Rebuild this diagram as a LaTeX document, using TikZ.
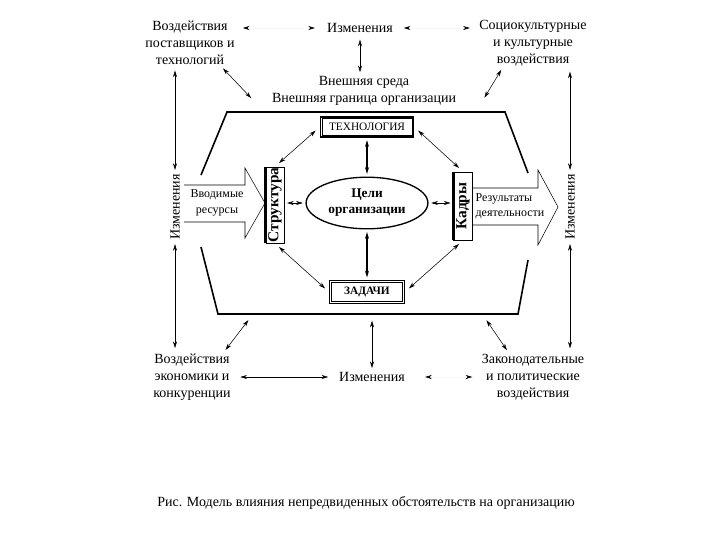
\documentclass[tikz,border=0pt]{standalone}
\usepackage{fontspec}
\setmainfont{Liberation Serif}
\usetikzlibrary{positioning, arrows.meta, shapes.geometric}

\begin{document}
\begin{tikzpicture}[x=0.75pt, y=-0.75pt, font=\fontsize{10.5}{12.75}\selectfont,
    >={Stealth[length=5pt,width=3pt]},
    txt/.style={align=center, inner sep=1pt},
    conn/.style={<->, shorten >=2pt, shorten <=2pt},
    faint/.style={draw=black!3, {Stealth[black,length=5pt,width=3pt]}-{Stealth[black,length=5pt,width=3pt]}},
    frame/.style={draw, line width=0.9pt, fill=white, inner sep=1pt},
    side/.style={draw, line width=0.6pt, fill=white, rotate=90, inner sep=0pt,
                 font=\fontsize{11.5}{12}\selectfont\bfseries},
    boundary/.style={line width=1.2pt},
    block/.style={line width=0.4pt}]
  \useasboundingbox (0,0) rectangle (720,540);
  % Outer environment
  \node[txt] (supl)  at (190,43)  {Воздействия\\поставщиков и\\технологий};
  \node[txt] (chgT)  at (360,28)  {Изменения};
  \node[txt] (socio) at (533,43)  {Социокультурные\\и культурные\\воздействия};
  \node[txt] (ext)   at (364,91)  {Внешняя среда\\Внешняя граница организации};
  \node[txt, rotate=90] (chgL) at (175,207) {Изменения};
  \node[txt, rotate=90] (chgR) at (570,207) {Изменения};
  \node[txt] (econ)  at (192,377) {Воздействия\\экономики и\\конкуренции};
  \node[txt] (chgB)  at (372,377) {Изменения};
  \node[txt] (law)   at (533,377) {Законодательные\\и политические\\воздействия};
  \coordinate (bTL) at (253,100); \coordinate (bTR) at (483,100);
  \coordinate (bBL) at (250,318); \coordinate (bBC) at (368,318);
  \coordinate (bBR) at (485,318);
  % Organisation boundary
  \draw[boundary] (201,175) -- (227,112) -- (505,112) -- (528,173);
  \draw[boundary] (201,247) -- (218,314) -- (518,314) -- (528,260);
  % Input and output
  \draw[block] (184,185) -- (245,185) -- (245,168) -- (265,203) -- (245,238) -- (245,222) -- (184,222);
  \draw[block] (473,188) -- (538,188) -- (538,170) -- (558,207) -- (538,245) -- (538,225) -- (473,225);
  \node[align=center, font=\fontsize{9}{12}\selectfont] (inp) at (217,203) {Вводимые\\ресурсы};
  \node[align=left, anchor=west, inner sep=1pt, font=\fontsize{9}{11}\selectfont] (res) at (474,206) {Результаты\\деятельности};
  % Internal variables
  \node[frame, minimum width=70pt, minimum height=15pt, font=\fontsize{8.5}{10}\selectfont] (tech) at (367,127) {ТЕХНОЛОГИЯ};
  \node[frame, minimum width=56pt, minimum height=17pt, font=\fontsize{8.5}{10}\selectfont\bfseries] (task) at (367,292) {ЗАДАЧИ};
  \foreach \b in {tech, task}
    \draw[line width=0.5pt] ([shift={(1.8pt,-1.8pt)}]\b.north west) rectangle ([shift={(-1.8pt,1.8pt)}]\b.south east);
  \node[ellipse, draw, line width=1pt, minimum width=84pt, minimum height=37pt, align=center,
        font=\fontsize{10}{12}\selectfont\bfseries] (goal) at (367,203) {Цели\\организации};
  \node[side, minimum width=57pt, minimum height=13.5pt] (struct) at (275,205) {Структура};
  \node[side, minimum width=51pt, minimum height=14pt] (staff) at (463,206) {Кадры};
  \draw[line width=2.4pt] (struct.north west) -- (struct.north east);
  \draw[line width=2.4pt] (staff.north west) -- (staff.north east);
  \draw[conn, thick] (tech) -- (goal);
  \draw[conn, thick] (goal) -- (task);
  \draw[conn] (goal.west -| struct.south) -- (goal.west);
  \draw[conn] (goal.east) -- (goal.east -| staff.north);
  \draw[conn, shorten >=4pt, shorten <=4pt] (tech.west) -- (struct.east);
  \draw[conn, shorten >=4pt, shorten <=4pt] (tech.east) -- (staff.east);
  \draw[conn, shorten >=4pt, shorten <=4pt] (struct.west) -- (task.west);
  \draw[conn, shorten >=4pt, shorten <=4pt] (staff.west) -- (task.east);
  % Links to the environment
  \draw[conn] (supl.-37) -- (bTL);
  \draw[conn] (socio.219) -- (bTR);
  \draw[conn, shorten <=4pt] (chgT.south) -- (chgT.south |- ext.north);
  \draw[conn] (econ.38) -- (bBL);
  \draw[conn] (chgB.north) -- (chgB.north |- bBC);
  \draw[conn] (law.135) -- (bBR);
  \draw[conn, shorten <=3pt] (chgL |- supl.south) -- (chgL.east);
  \draw[conn, shorten >=3pt] (chgL.west) -- (chgL |- econ.north);
  \draw[conn, shorten <=3pt] (chgR |- socio.south) -- (chgR.east);
  \draw[conn, shorten >=3pt] (chgR.west) -- (chgR |- law.north);
  \draw[conn, shorten <=6pt, shorten >=7pt] (econ.east) -- (chgB.west);
  \draw[faint, shorten <=5pt, shorten >=8pt] (supl.east |- chgT) -- (chgT.west);
  \draw[faint, shorten <=7pt, shorten >=6pt] (chgT.east) -- (socio.west |- chgT);
  \draw[faint, shorten <=14pt, shorten >=6pt] (chgB.east) -- (law.west |- chgB);
  % Caption
  \node (cap) at (366,503) {\fontsize{10.5}{13}\selectfont Рис. Модель влияния непредвиденных обстоятельств на организацию};
\end{tikzpicture}
\end{document}
